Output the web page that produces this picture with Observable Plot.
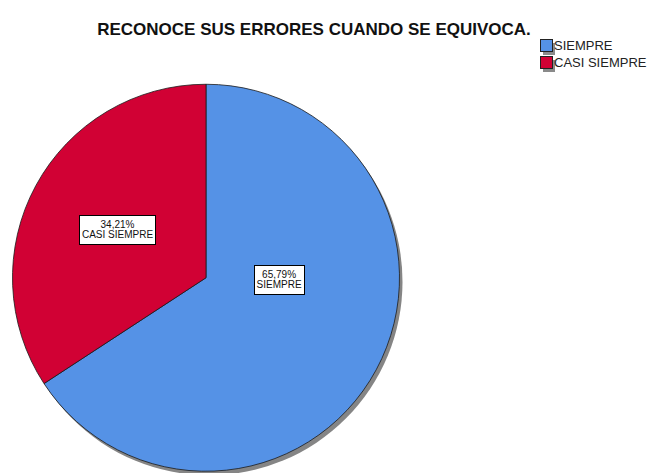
<!DOCTYPE html>
<html><head><meta charset="utf-8">
<script src="https://cdn.jsdelivr.net/npm/d3@7"></script>
<script src="https://cdn.jsdelivr.net/npm/@observablehq/plot@0.6"></script>
<style>
body{margin:0;background:#fff;overflow:hidden;}
#chart svg{font-family:"Liberation Sans",Arial,sans-serif;}
</style>
</head><body><div id="chart"></div>
<script>
const title = "RECONOCE SUS ERRORES CUANDO SE EQUIVOCA.";
const categories = ["SIEMPRE", "CASI SIEMPRE"];
const percents = [65.79, 34.21];
const percentLabels = ["65,79%", "34,21%"];
const labelX = [0.375, -0.46];
const labelY = [-0.01, 0.25];
const colors = ["#5592e6", "#d10134"];

const color = Plot.scale({color: {type: "ordinal", domain: categories, range: colors}});
const rows = categories.map((c, i) => ({category: c, value: percents[i], label: percentLabels[i] + "\n" + c, lx: labelX[i], ly: labelY[i]}));
const pieData = d3.pie().sort(null).value(d => d.value)(rows);

const FONT = '"Liberation Sans", Arial, sans-serif';
const ctx = document.createElement("canvas").getContext("2d");
function measure(t, size, weight = "normal") { ctx.font = `${weight} ${size}px ${FONT}`; return ctx.measureText(t).width; }

function pieMark(index, scales, values, dims) {
  const cx = scales.x(0), cy = scales.y(0), r = scales.x(1) - scales.x(0);
  const g = d3.create("svg:g");
  g.append("circle").attr("cx", cx + 3).attr("cy", cy + 4).attr("r", r).attr("fill", "#858585");
  const arc = d3.arc().innerRadius(0).outerRadius(r);
  g.append("g").attr("transform", `translate(${cx},${cy})`)
    .selectAll("path").data(pieData).join("path")
    .attr("d", arc).attr("fill", d => color.apply(d.data.category))
    .attr("stroke", "#1a1a1a").attr("stroke-width", 0.8).attr("stroke-linejoin", "round");
  // label boxes
  for (const d of rows) {
    const lines = d.label.split("\n");
    const w = Math.max(...lines.map(l => measure(l, 10))) + 5;
    const h = 29;
    const x = scales.x(d.lx), y = scales.y(d.ly);
    g.append("rect").attr("x", Math.round(x - w / 2) + 0.5).attr("y", Math.round(y - h / 2) + 0.5)
      .attr("width", Math.round(w)).attr("height", h).attr("fill", "#fff").attr("stroke", "#000").attr("stroke-width", 1);
  }
  // legend
  const lg = g.append("g").attr("transform", "translate(540,39)").attr("text-anchor", "start");
  categories.forEach((c, i) => {
    const y = i * 17;
    lg.append("rect").attr("x", 3).attr("y", y + 4).attr("width", 12).attr("height", 12).attr("fill", "#8a8a8a");
    lg.append("rect").attr("x", 0.5).attr("y", y + 0.5).attr("width", 12).attr("height", 12).attr("fill", color.apply(c)).attr("stroke", "#222").attr("stroke-width", 1);
    lg.append("text").attr("x", 14).attr("y", y + 6.5).attr("dy", "0.35em").attr("font-size", 13).attr("fill", "#222").text(c);
  });
  return g.node();
}

const chart = Plot.plot({
  width: 657, height: 473,
  margin: 0,
  x: {domain: [-1, 1], range: [12.5, 399.5], axis: null},
  y: {domain: [-1, 1], range: [471.5, 84], axis: null},
  marks: [
    pieMark,
    Plot.text(rows, {x: "lx", y: "ly", text: "label", fontSize: 10, lineHeight: 1.0, fill: "#111"}),
    Plot.text([title], {frameAnchor: "top", dx: -15, dy: 22, fontSize: 17, fontWeight: "bold", fill: "#111"})
  ]
});
document.getElementById("chart").append(chart);
</script>
</body></html>
